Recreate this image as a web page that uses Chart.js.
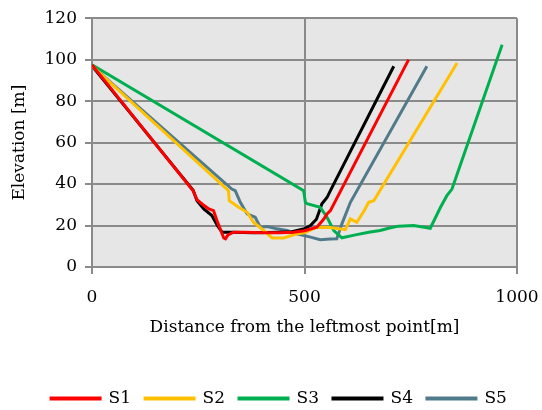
<!DOCTYPE html>
<html>
<head>
<meta charset="utf-8">
<script src="https://cdn.jsdelivr.net/npm/chart.js@4/dist/chart.umd.min.js"></script>
<style>
  html, body { margin: 0; padding: 0; background: #fff; }
  #wrap { width: 542px; height: 410px; }
</style>
</head>
<body>
<div id="wrap"><canvas id="grafik"></canvas></div>
<script>
// distance [m] and elevation [m] for each section
const s1X = [0, 238, 247, 259, 275, 286, 294, 310, 314, 320, 333, 360, 400, 440, 474, 500, 529, 545, 553, 561, 745];
const s1Y = [97.5, 36.8, 32.5, 30.4, 28, 27.2, 22.4, 14, 13.6, 15.5, 16.8, 16.8, 16.5, 16.5, 16.8, 17.5, 19.2, 23, 25.6, 27.2, 100];

const s2X = [0, 321, 323, 345, 365, 380, 404, 424, 451, 482, 500, 529, 560, 596, 608, 623, 640, 651, 663, 859];
const s2Y = [97, 36.8, 32, 28.8, 26.4, 21.6, 17.6, 14, 14, 16, 16.5, 19.2, 19, 18, 23.2, 21.6, 27, 31.2, 32, 98.4];

const s3X = [0, 498, 502, 506, 537, 553, 569, 588, 620, 651, 678, 700, 721, 757, 796, 820, 835, 847, 965];
const s3Y = [97.5, 36.8, 31.2, 30.5, 28.8, 24, 17.6, 14.1, 15.5, 16.8, 17.6, 18.8, 19.7, 20, 18.7, 28.8, 34.4, 37.6, 107.2];

const s4X = [0, 238, 247, 263, 282, 295, 306, 330, 380, 440, 470, 500, 514, 528, 535, 541, 553, 561, 710];
const s4Y = [97, 37, 32, 28, 24.8, 20, 16.8, 16.8, 16.5, 16.8, 17, 18.5, 20, 23, 27, 30.5, 33.5, 36.8, 96.8];

const s5X = [0, 329, 337, 349, 365, 384, 396, 412, 435, 459, 482, 514, 537, 560, 576, 588, 608, 788];
const s5Y = [97, 37.6, 36.8, 31.2, 25.6, 24, 19.2, 19.5, 18.4, 17.6, 16, 14.4, 13.2, 13.5, 13.6, 20.8, 31.2, 96.8];

const nazivi = ["S1", "S2", "S3", "S4", "S5"];
const boje = ["#FF0000", "#FFC000", "#00B050", "#000000", "#517A8B"];
const sviX = [s1X, s2X, s3X, s4X, s5X];
const sviY = [s1Y, s2Y, s3Y, s4Y, s5Y];

const font = { family: "'DejaVu Serif', serif", size: 17 };
const sivaMreza = "#8A8A8A";

// grey plot background
const pozadina = {
    id: "pozadina",
    beforeDraw(chart) {
        const a = chart.chartArea;
        const ctx = chart.ctx;
        ctx.save();
        ctx.fillStyle = "#E6E6E6";
        ctx.fillRect(a.left, a.top, a.right - a.left, a.bottom - a.top);
        ctx.restore();
    }
};

const datasets = nazivi.map((naziv, i) => ({
    label: naziv,
    data: sviX[i].map((x, j) => ({ x: x, y: sviY[i][j] })),
    borderColor: boje[i],
    backgroundColor: boje[i],
    borderWidth: 3,
    pointRadius: 0,
    tension: 0,
    showLine: true,
    fill: false
}));

new Chart(document.getElementById("grafik").getContext("2d"), {
    type: "scatter",
    data: { datasets: datasets },
    plugins: [pozadina],
    options: {
        responsive: true,
        maintainAspectRatio: false,
        animation: false,
        layout: { padding: { top: 15, right: 0, left: 16, bottom: -7 } },
        plugins: {
            legend: {
                position: "bottom",
                labels: {
                    boxWidth: 49,
                    boxHeight: 1,
                    padding: 14,
                    color: "#000",
                    font: font
                }
            },
            tooltip: { enabled: false }
        },
        scales: {
            x: {
                type: "linear",
                min: 0,
                max: 1000,
                ticks: { stepSize: 500, color: "#000", font: font, padding: 13, maxRotation: 0, callback: v => v },
                grid: {
                    color: sivaMreza, lineWidth: 2, borderDash: [8, 5],
                    tickColor: sivaMreza, tickLength: 7, tickBorderDash: []
                },
                border: { display: true, color: sivaMreza, width: 2 },
                title: { display: true, text: "Distance from the leftmost point[m]", color: "#000", font: font, padding: { top: 2, bottom: 38 } },
                afterFit: s => {
                    s.height = 109;
                    s.paddingLeft = 0;
                    s.paddingRight = 25;
                }
            },
            y: {
                min: 0,
                max: 120,
                ticks: { stepSize: 20, color: "#000", font: font, padding: 8 },
                grid: {
                    color: sivaMreza, lineWidth: 2, borderDash: [8, 5],
                    tickColor: sivaMreza, tickLength: 7, tickBorderDash: []
                },
                border: { display: true, color: sivaMreza, width: 2 },
                title: { display: true, text: "Elevation [m]", color: "#000", font: font, padding: { top: -7, bottom: 4 } },
                afterFit: s => { s.width = 76; }
            }
        }
    }
});
</script>
</body>
</html>
